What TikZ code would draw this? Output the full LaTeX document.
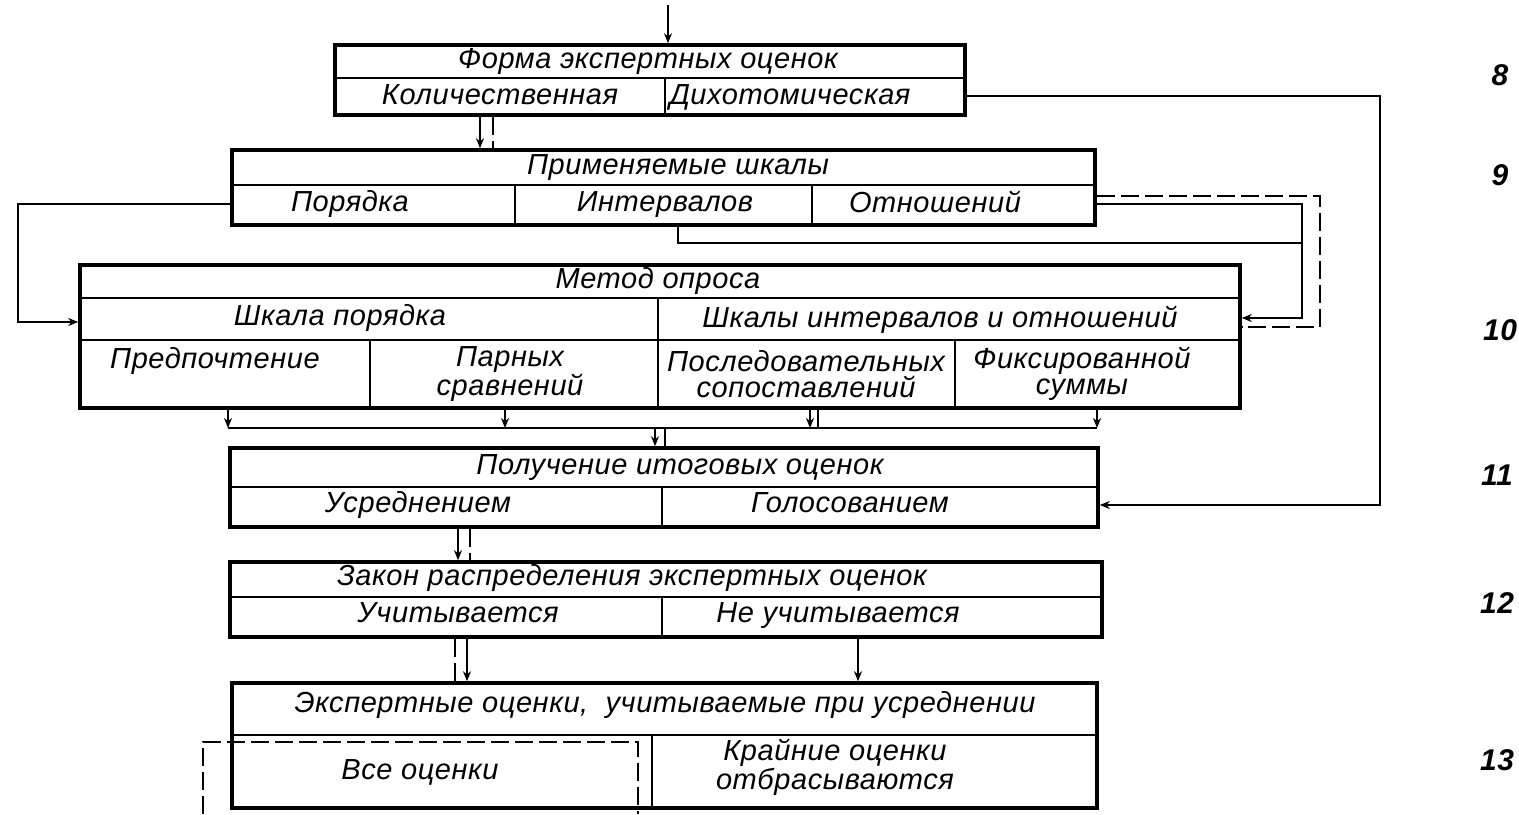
\documentclass[tikz,border=0pt]{standalone}
\usepackage{fontspec}
\setmainfont{Liberation Sans}[LetterSpace=2]
\usetikzlibrary{arrows.meta}
\tikzset{
  box/.style={draw, line width=1.8pt, inner sep=0pt},
  div/.style={line width=0.8pt},
  cell2/.style={font=\itshape\fontsize{14.5}{13}\selectfont, inner sep=0pt, align=center},
  cell/.style={cell2, text height=10.5pt, text depth=3pt},
  con/.style={line width=0.9pt},
  arr/.style={con, -{Stealth[length=5pt,width=4pt]}},
  dsh/.style={con, dash pattern=on 9pt off 3pt},
  lvl/.style={font=\bfseries\itshape\fontsize{15}{15}\selectfont}
}
\begin{document}
\begin{tikzpicture}[x=0.5pt,y=-0.5pt]
  \useasboundingbox (0,0) rectangle (1519,814);
  % boxes
  \node[box, minimum width=315pt, minimum height=35pt] (b8) at (650,80) {};
  \node[box, minimum width=431.5pt, minimum height=37.5pt] (b9) at (663.5,187.5) {};
  \node[box, minimum width=580pt, minimum height=71.5pt] (b10) at (660,336.5) {};
  \node[box, minimum width=434pt, minimum height=39.5pt] (b11) at (664,487.5) {};
  \node[box, minimum width=436pt, minimum height=37.5pt] (b12) at (666,599.5) {};
  \node[box, minimum width=432.5pt, minimum height=62.5pt] (b13) at (664.5,745.5) {};
  % 8
  \draw[div] (335,78) -- (965,78);
  \draw[div] (665,78) -- (665,115);
  \node[cell] (t8) at (648,61) {Форма\ экспертных\ оценок};
  \node[cell] (kol) at (500,97) {Количественная};
  \node[cell] (dih) at (790,97) {Дихотомическая};
  % 9
  \draw[div] (232,185) -- (1095,185);
  \draw[div] (515,185) -- (515,225);
  \draw[div] (812,185) -- (812,225);
  \node[cell] (t9) at (678,167) {Применяемые\ шкалы};
  \node[cell] (por) at (350,204) {Порядка};
  \node[cell] (int) at (665,204) {Интервалов};
  \node[cell] (otn) at (935,205) {Отношений};
  % 10
  \draw[div] (80,298) -- (1240,298);
  \draw[div] (80,340) -- (1240,340);
  \draw[div] (658,298) -- (658,408);
  \draw[div] (370,340) -- (370,408);
  \draw[div] (955,340) -- (955,408);
  \node[cell] (t10) at (658,281) {Метод\ опроса};
  \node[cell] (shp) at (340,318) {Шкала порядка};
  \node[cell] (shio) at (940,320) {Шкалы интервалов и отношений};
  \node[cell] (pred) at (215,361) {Предпочтение};
  \node[cell2] (par) at (510,374) {Парных\\сравнений};
  \node[cell2] (posl) at (806,374) {Последовательных\\сопоставлений};
  \node[cell2] (fix) at (1082,374) {Фиксированной\\суммы};
  % 11
  \draw[div] (230,487) -- (1098,487);
  \draw[div] (662,487) -- (662,527);
  \node[cell] (t11) at (680,467) {Получение\ итоговых\ оценок};
  \node[cell] (usr) at (418,505) {Усреднением};
  \node[cell] (gol) at (850,505) {Голосованием};
  % 12
  \draw[div] (230,597) -- (1102,597);
  \draw[div] (662,597) -- (662,637);
  \node[cell] (t12) at (632,578) {Закон\ распределения\ экспертных\ оценок};
  \node[cell] (uch) at (458,615) {Учитывается};
  \node[cell] (neuch) at (838,615) {Не учитывается};
  % 13
  \draw[div] (232,735) -- (1097,735);
  \draw[div] (652,735) -- (652,808);
  \node[cell] (t13) at (665,705) {Экспертные оценки,\ \ учитываемые при усреднении};
  \node[cell] (vse) at (420,772) {Все\ оценки};
  \node[cell2] (kr) at (835,767) {Крайние оценки\\отбрасываются};
  % levels
  \node[lvl] (n8) at (1500,75) {8};
  \node[lvl] (n9) at (1500,175) {9};
  \node[lvl] (n10) at (1500,330) {10};
  \node[lvl] (n11) at (1497,475) {11};
  \node[lvl] (n12) at (1497,603) {12};
  \node[lvl] (n13) at (1497,760) {13};
  % connectors
  \coordinate (in) at (668,5);
  \draw[arr] (in) -- (in |- b8.north);
  \draw[arr] (b8.south -| 480,0) -- (b9.north -| 480,0);
  \draw[dsh] (b8.south -| 493,0) -- (b9.north -| 493,0);
  \draw[arr] (b9.west |- por) -- ++(-212,0) |- (b10.west |- 0,322);
  \draw[dsh] (b9.east |- 0,196) -| (1320,327) -- (b10.east |- 0,327);
  \draw[arr] (b9.east |- 0,204) -| (1302,318) -- (b10.east |- 0,318);
  \draw[con] (b9.south -| 678,0) |- (1302,243);
  \draw[arr] (b8.east |- 0,96) -| (1380,505) -- (b11.east |- 0,505);
  % bus 10 -> 11
  \coordinate (busl) at (228,428);
  \coordinate (busr) at (1097,428);
  \draw[con] (busl) -- (busr);
  \draw[arr] (b10.south -| busl) -- (busl);
  \draw[arr] (b10.south -| 505,0) -- (busl -| 505,0);
  \draw[arr] (b10.south -| 810,0) -- (busl -| 810,0);
  \draw[dsh] (b10.south -| 818,0) -- (busl -| 818,0);
  \draw[arr] (b10.south -| busr) -- (busr);
  \draw[arr] (busl -| 655,0) -- (b11.north -| 655,0);
  \draw[dsh] (busl -| 665,0) -- (b11.north -| 665,0);
  % 11 -> 12 -> 13
  \draw[arr] (b11.south -| 458,0) -- (b12.north -| 458,0);
  \draw[dsh] (b11.south -| 470,0) -- (b12.north -| 470,0);
  \draw[dsh] (b12.south -| 455,0) -- (b13.north -| 455,0);
  \draw[arr] (b12.south -| 467,0) -- (b13.north -| 467,0);
  \draw[arr] (b12.south -| 858,0) -- (b13.north -| 858,0);
  \draw[dsh] (203,814) -- (203,742) -- (638,742) -- (638,814);
\end{tikzpicture}
\end{document}
